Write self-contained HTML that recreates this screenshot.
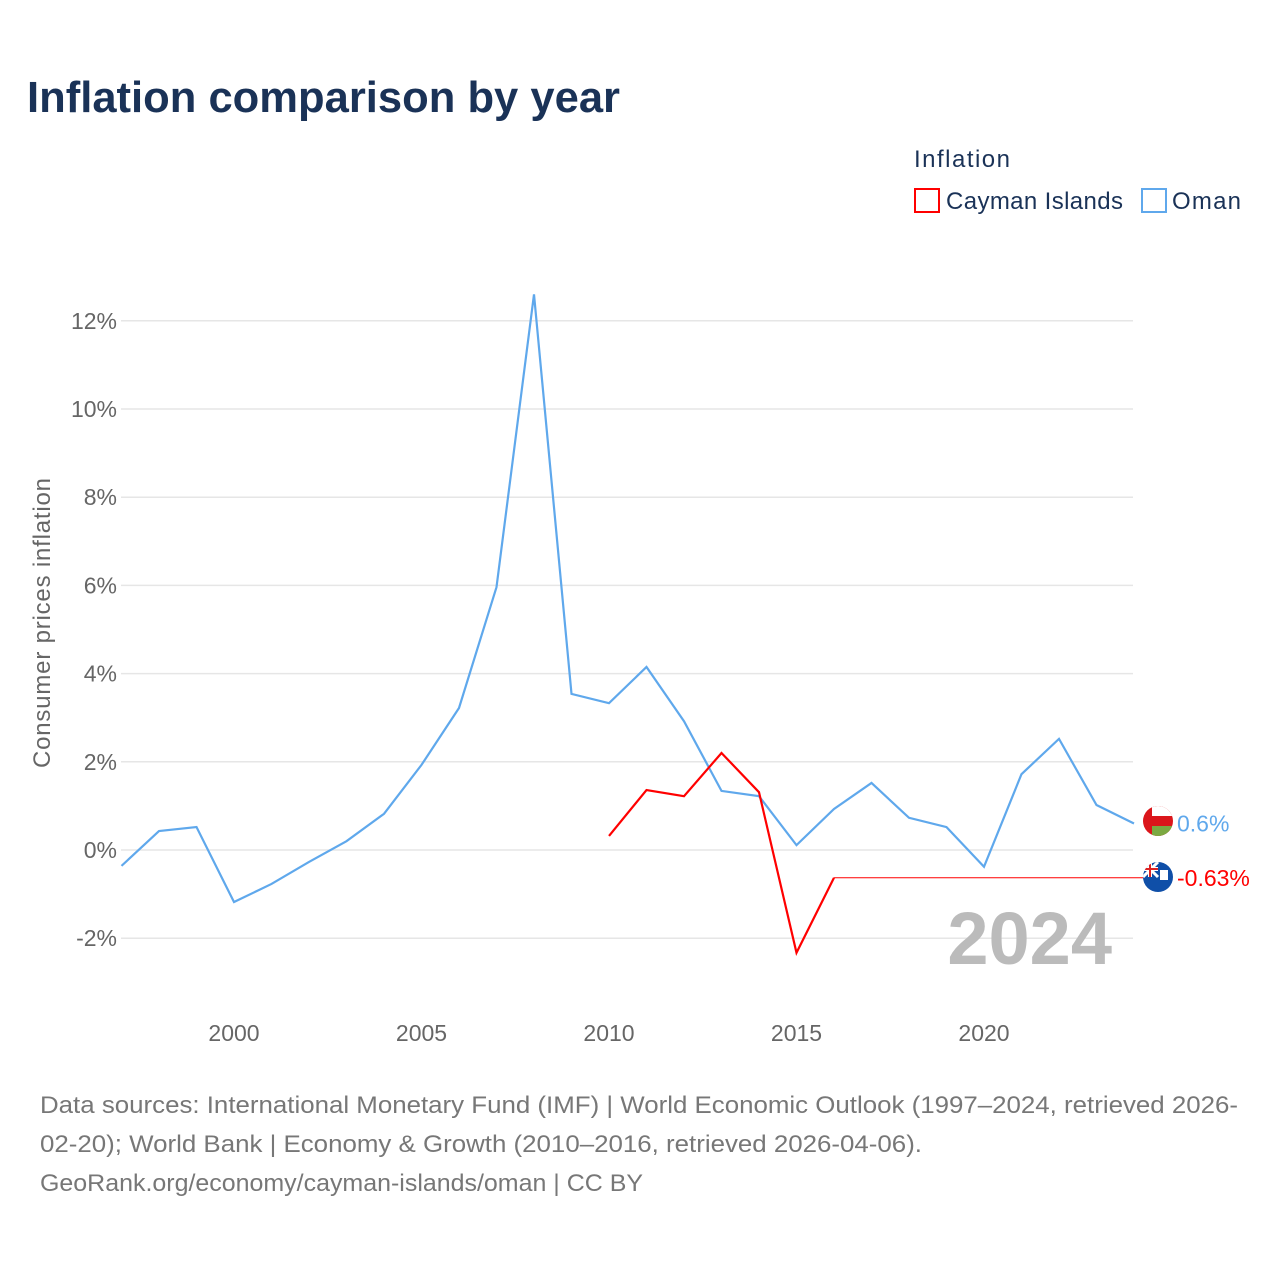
<!DOCTYPE html>
<html><head><meta charset="utf-8">
<style>
body{margin:0;background:#fff;font-family:"Liberation Sans",sans-serif;}
svg text{font-family:"Liberation Sans",sans-serif;}
</style></head>
<body>
<svg width="1280" height="1280" viewBox="0 0 1280 1280">
<text x="27" y="112" font-size="44" font-weight="bold" fill="#1a3257" textLength="593" lengthAdjust="spacingAndGlyphs">Inflation comparison by year</text>
<g>
<text x="914" y="167" font-size="24" fill="#1a3257" textLength="96">Inflation</text>
<g><rect x="915" y="189" width="24" height="23" fill="none" stroke="#f00" stroke-width="2"/><text x="946" y="209" font-size="24" fill="#1a3257" textLength="177">Cayman Islands</text></g>
<g><rect x="1142" y="189" width="24" height="23" fill="none" stroke="#5fa8ec" stroke-width="2"/><text x="1172" y="209" font-size="24" fill="#1a3257" textLength="69">Oman</text></g>
</g>
<g id="grid"></g>
<g id="yticks"></g>
<g id="xticks"></g>
<text transform="translate(50,623) rotate(-90)" text-anchor="middle" font-size="24" fill="#666" textLength="290">Consumer prices inflation</text>
<text x="1112" y="964" text-anchor="end" font-size="74" font-weight="bold" fill="#bbb">2024</text>
<g id="series"></g>
<g>
<clipPath id="c1"><circle cx="1158" cy="821" r="15"/></clipPath>
<g clip-path="url(#c1)"><rect x="1143" y="806" width="30" height="30" fill="#db161b"/><rect x="1152" y="806" width="21" height="10" fill="#fff"/><rect x="1152" y="826" width="21" height="10" fill="#7ba942"/></g></g>
<g>
<clipPath id="c2"><circle cx="1158" cy="877" r="15"/></clipPath>
<g clip-path="url(#c2)"><rect x="1143" y="862" width="30" height="30" fill="#0f4fa8"/><path d="M1143 862 L1158 877 M1158 862 L1143 877" stroke="#fff" stroke-width="3"/><path d="M1150 862 V877 M1143 869 H1158" stroke="#fff" stroke-width="4"/><path d="M1150 862 V877 M1143 869 H1158" stroke="#d22" stroke-width="2"/><rect x="1160" y="870" width="8" height="10" fill="#fff"/></g></g>
<g id="labels"></g>
<text x="40" y="1113" font-size="24" fill="#777" textLength="1198" lengthAdjust="spacingAndGlyphs">Data sources: International Monetary Fund (IMF) | World Economic Outlook (1997–2024, retrieved 2026-</text>
<text x="40" y="1152" font-size="24" fill="#777" textLength="882" lengthAdjust="spacingAndGlyphs">02-20); World Bank | Economy &amp; Growth (2010–2016, retrieved 2026-04-06).</text>
<text x="40" y="1191" font-size="24" fill="#777" textLength="603" lengthAdjust="spacingAndGlyphs">GeoRank.org/economy/cayman-islands/oman | CC BY</text>
</svg>
<script>
const years=[1997,1998,1999,2000,2001,2002,2003,2004,2005,2006,2007,2008,2009,2010,2011,2012,2013,2014,2015,2016,2017,2018,2019,2020,2021,2022,2023,2024];
const omanValues=[-0.36,0.43,0.52,-1.18,-0.77,-0.27,0.2,0.82,1.93,3.22,5.96,12.6,3.54,3.33,4.15,2.92,1.34,1.22,0.11,0.93,1.52,0.73,0.52,-0.38,1.72,2.52,1.02,0.6];
const caymanYears=[2010,2011,2012,2013,2014,2015,2016];
const caymanValues=[0.32,1.36,1.22,2.2,1.31,-2.33,-0.63];
const yTicks=[-2,0,2,4,6,8,10,12];
const xTicks=[2000,2005,2010,2015,2020];
const NS="http://www.w3.org/2000/svg";
const X=y=>121.5+(y-1997)*37.5;
const Y=v=>850-v*44.1;
function mk(t,a,p){const e=document.createElementNS(NS,t);for(const k in a)e.setAttribute(k,a[k]);p.appendChild(e);return e;}
const grid=document.getElementById('grid'),yt=document.getElementById('yticks'),xt=document.getElementById('xticks'),ser=document.getElementById('series'),lab=document.getElementById('labels');
yTicks.forEach(v=>{
 const l=mk('line',{x1:121,x2:1133,y1:Y(v),y2:Y(v),stroke:'#e6e6e6','stroke-width':1.5},grid);
 
 
 const t=mk('text',{x:117,y:Y(v)+8,'text-anchor':'end','font-size':23,fill:'#666'},yt);
 t.textContent=v+'%';
 
 
});
xTicks.forEach(y=>{
 const t=mk('text',{x:X(y),y:1041,'text-anchor':'middle','font-size':23,fill:'#666'},xt);
 t.textContent=y;
 
 
});
const om=mk('polyline',{points:years.map((y,i)=>X(y)+','+Y(omanValues[i])).join(' '),fill:'none',stroke:'#5fa8ec','stroke-width':2.2},ser);


const cy=mk('polyline',{points:caymanYears.map((y,i)=>X(y)+','+Y(caymanValues[i])).join(' '),fill:'none',stroke:'#f00','stroke-width':2.2},ser);


const lastC=caymanValues[caymanValues.length-1];
const ext=mk('line',{x1:X(caymanYears[caymanYears.length-1]),x2:1150,y1:Y(lastC),y2:Y(lastC),stroke:'#f00','stroke-width':1},ser);


const lo=omanValues[omanValues.length-1];
const t1=mk('text',{x:1177,y:Y(lo)+8,'font-size':23,fill:'#5fa8ec'},lab);
t1.textContent=lo+'%';


const t2=mk('text',{x:1177,y:Y(lastC)+8,'font-size':23,fill:'#f00'},lab);
t2.textContent=lastC+'%';


</script>
</body></html>
